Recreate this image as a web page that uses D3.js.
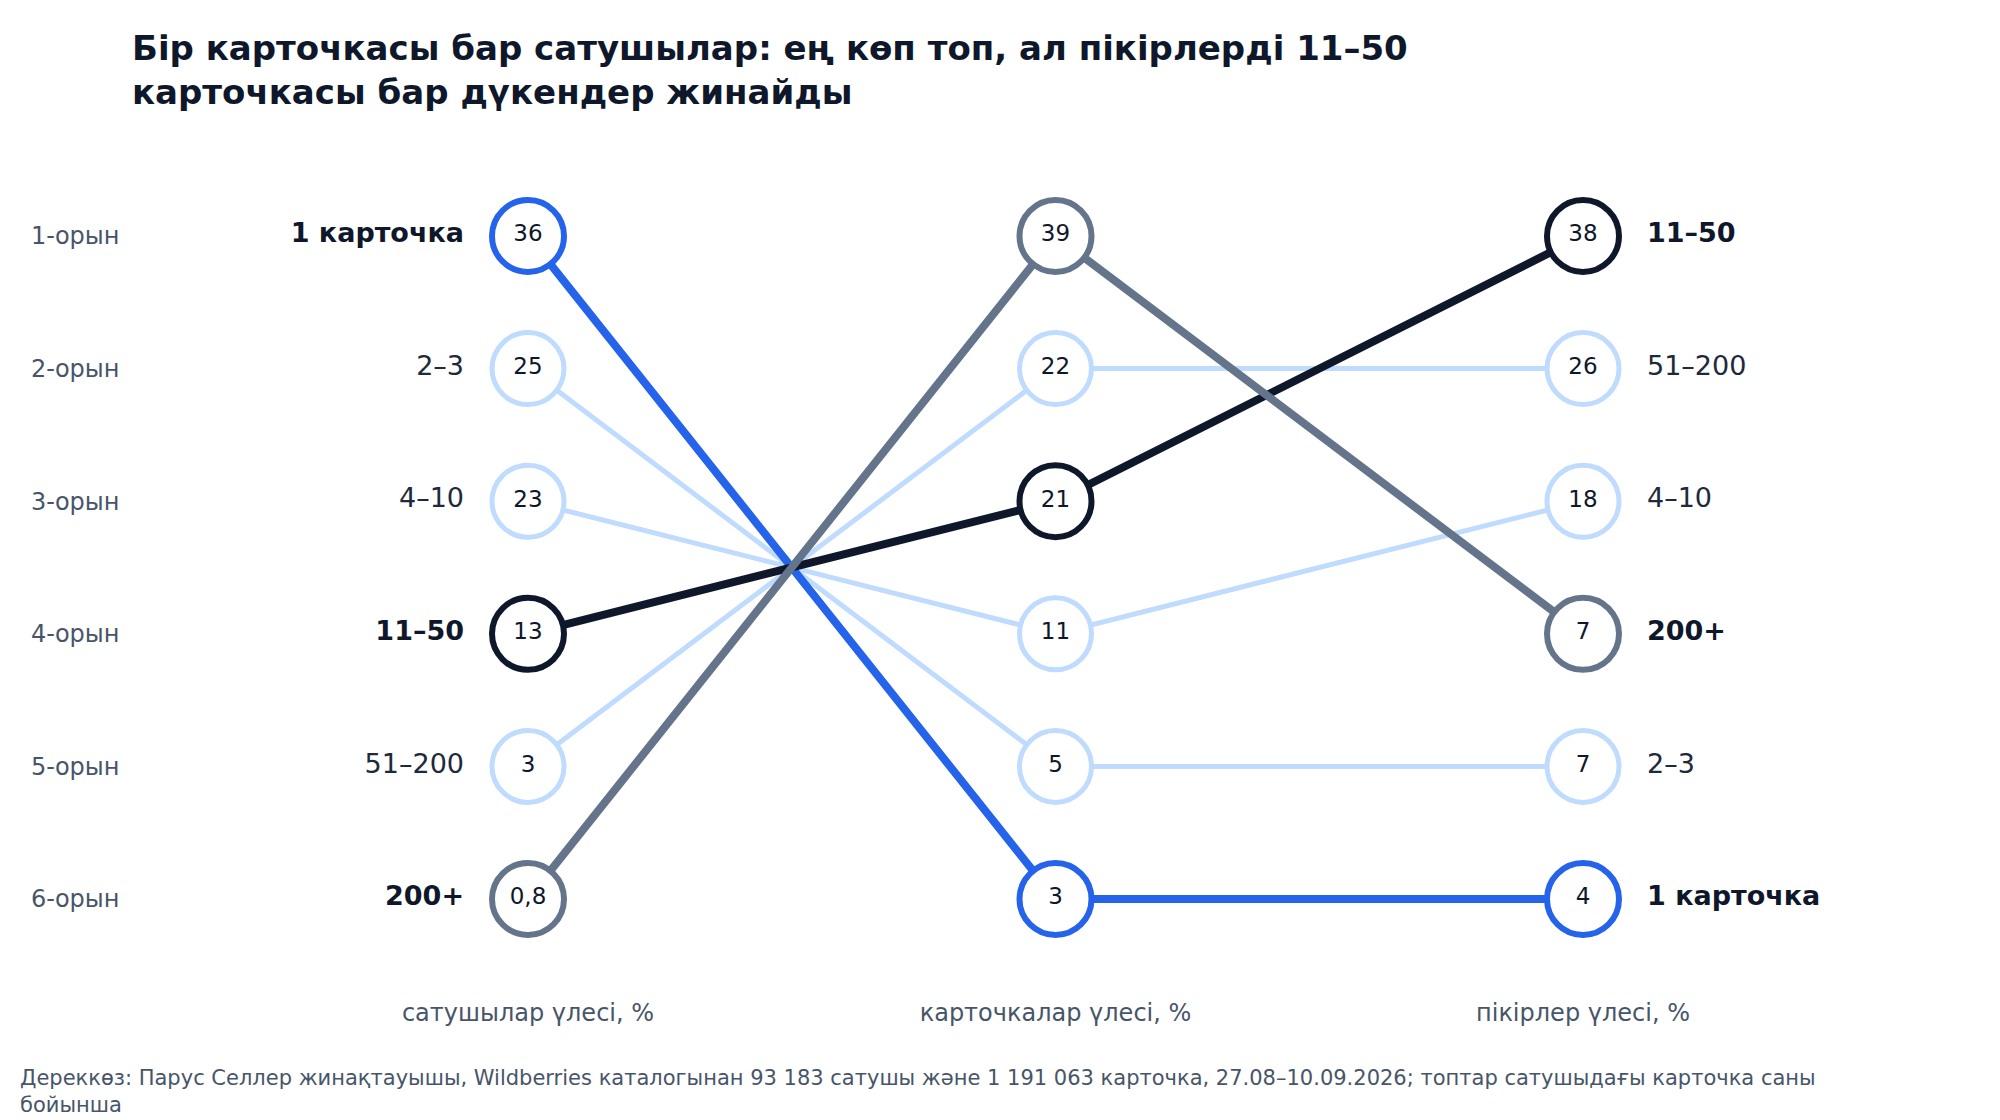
<!DOCTYPE html>
<html><head><meta charset="utf-8">
<script src="https://cdn.jsdelivr.net/npm/d3@7"></script>
<style>body{margin:0;background:#fff}svg{font-family:"DejaVu Sans",sans-serif}</style>
</head><body>
<svg id="chart" width="2000" height="1120"></svg>
<script>
const groups = ['1 карточка', '2–3', '4–10', '11–50', '51–200', '200+']
const sellerShare = [36, 25, 23, 13, 3, 0.8]
const cardShare = [3, 5, 11, 21, 22, 39]
const reviewShare = [4, 7, 18, 38, 26, 7]
// rank order per column (indices into groups); review tie 7 → 200+ above 2–3
const sellerOrder = [0, 1, 2, 3, 4, 5]
const cardOrder = [5, 4, 3, 2, 1, 0]
const reviewOrder = [3, 4, 2, 5, 1, 0]
const columns = ['сатушылар үлесі, %', 'карточкалар үлесі, %', 'пікірлер үлесі, %']
const ranks = ['1-орын', '2-орын', '3-орын', '4-орын', '5-орын', '6-орын']

const colors = { '1 карточка': '#2563eb', '11–50': '#0f172a', '200+': '#64748b' }
const light = '#bfdbfe'
const colorOf = g => colors[g] || light
const isHi = g => g in colors

const svg = d3.select('#chart')
const x = d3.scalePoint().domain([0, 1, 2]).range([528, 1583])
const y = d3.scalePoint().domain(d3.range(6)).range([236, 899])
const fmt = v => String(v).replace('.', ',')

const values = [sellerShare, cardShare, reviewShare]
const orders = [sellerOrder, cardOrder, reviewOrder]
const rankOf = orders.map(o => { const r = []; o.forEach((g, i) => { r[g] = i }); return r })

svg.append('text').attr('x', 132).attr('y', 60).attr('font-size', 34).attr('font-weight', 'bold').attr('fill', '#0f172a')
  .text('Бір карточкасы бар сатушылар: ең көп топ, ал пікірлерді 11–50')
svg.append('text').attr('x', 132).attr('y', 104).attr('font-size', 34).attr('font-weight', 'bold').attr('fill', '#0f172a')
  .text('карточкасы бар дүкендер жинайды')

svg.selectAll('.rank').data(ranks).enter().append('text')
  .attr('x', 31).attr('y', (d, i) => y(i)).attr('dy', '0.35em')
  .attr('font-size', 24).attr('fill', '#475569').text(d => d)

// lines, non-highlighted first
const drawOrder = d3.range(6).sort((a, b) => isHi(groups[a]) - isHi(groups[b]))
drawOrder.forEach(g => {
  const pts = [0, 1, 2].map(c => [x(c), y(rankOf[c][g])])
  svg.append('path').attr('d', d3.line()(pts)).attr('fill', 'none')
    .attr('stroke', colorOf(groups[g])).attr('stroke-width', isHi(groups[g]) ? 8 : 5)
})

;[0, 1, 2].forEach(c => {
  drawOrder.forEach(g => {
    svg.append('circle').attr('cx', x(c)).attr('cy', y(rankOf[c][g])).attr('r', 36)
      .attr('fill', '#fff').attr('stroke', colorOf(groups[g])).attr('stroke-width', isHi(groups[g]) ? 6 : 5)
    svg.append('text').attr('x', x(c)).attr('y', y(rankOf[c][g])).attr('dy', '-0.05em')
      .attr('text-anchor', 'middle').attr('dominant-baseline', 'middle')
      .attr('font-size', 23).attr('fill', '#0f172a').text(fmt(values[c][g]))
  })
  svg.append('text').attr('x', x(c)).attr('y', 1021).attr('text-anchor', 'middle')
    .attr('font-size', 24).attr('fill', '#475569').text(columns[c])
})

groups.forEach((g, i) => {
  svg.append('text').attr('x', 464).attr('y', y(rankOf[0][i])).attr('dy', '-0.05em')
    .attr('dominant-baseline', 'middle').attr('text-anchor', 'end')
    .attr('font-size', 27).attr('font-weight', isHi(g) ? 'bold' : 'normal')
    .attr('fill', isHi(g) ? '#0f172a' : '#1e293b').text(g)
  svg.append('text').attr('x', 1647).attr('y', y(rankOf[2][i])).attr('dy', '-0.05em')
    .attr('dominant-baseline', 'middle')
    .attr('font-size', 27).attr('font-weight', isHi(g) ? 'bold' : 'normal')
    .attr('fill', isHi(g) ? '#0f172a' : '#1e293b').text(g)
})

svg.append('text').attr('x', 20).attr('y', 1085).attr('font-size', 21).attr('fill', '#475569')
  .text('Дереккөз: Парус Селлер жинақтауышы, Wildberries каталогынан 93 183 сатушы және 1 191 063 карточка, 27.08–10.09.2026; топтар сатушыдағы карточка саны')
svg.append('text').attr('x', 20).attr('y', 1112).attr('font-size', 21).attr('fill', '#475569')
  .text('бойынша')
</script>
</body></html>
